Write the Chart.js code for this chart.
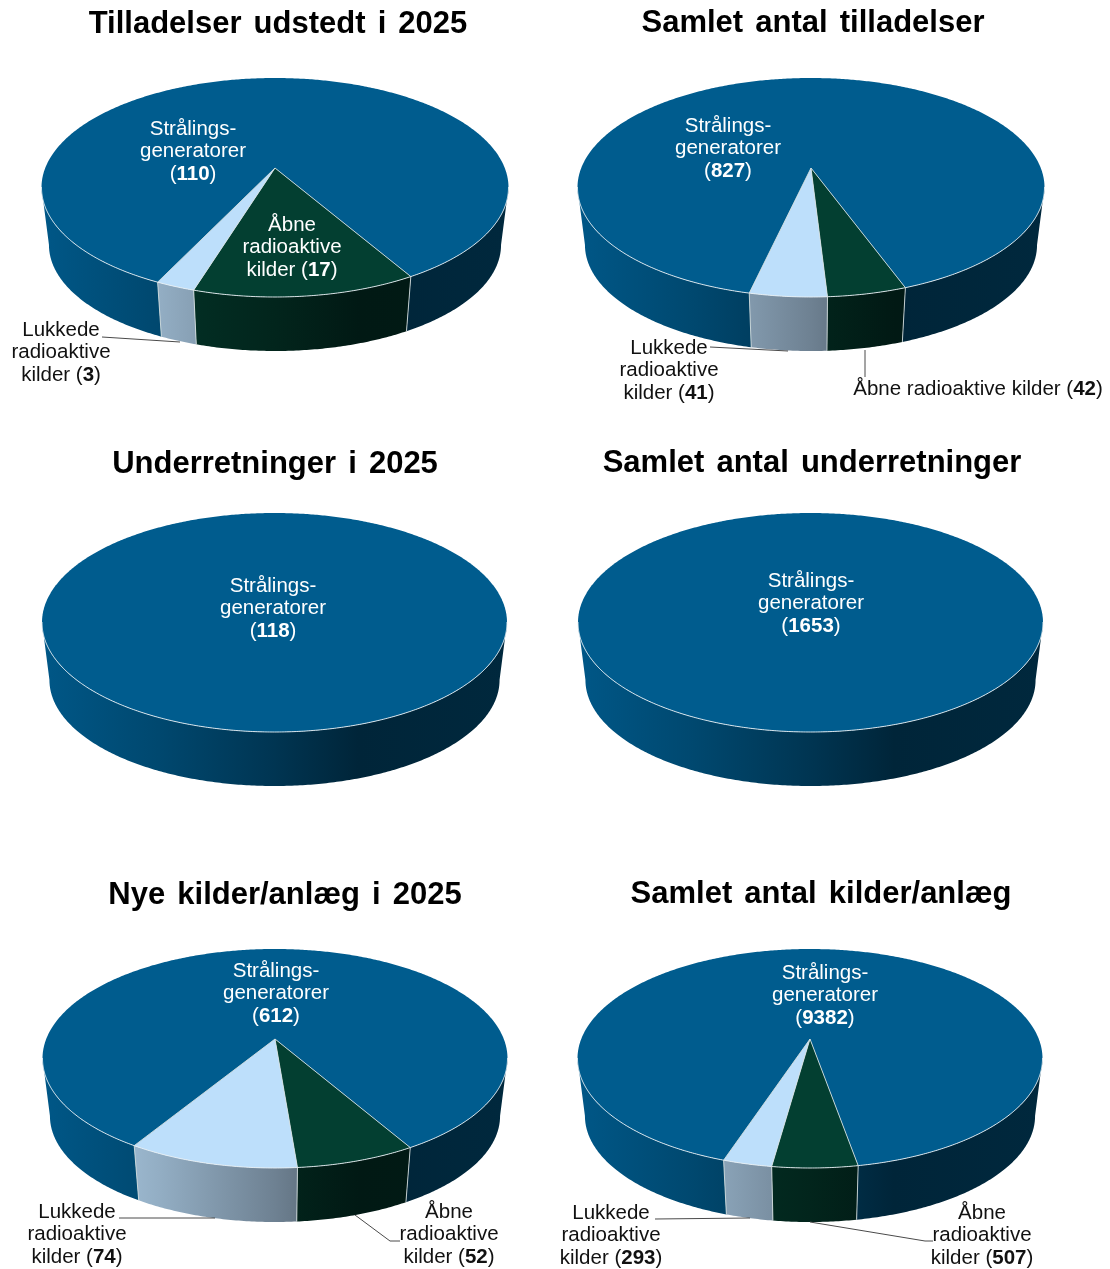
<!DOCTYPE html>
<html lang="da">
<head>
<meta charset="utf-8">
<title>Tilladelser og underretninger</title>
<script src="https://cdn.jsdelivr.net/npm/chart.js@4/dist/chart.umd.min.js"></script>
<style>
html,body{margin:0;padding:0;background:#fff;overflow:hidden;width:1110px;height:1269px}
canvas{position:absolute;display:block}
</style>
</head>
<body>
<script>
// ---------- data ----------
const categories = ["Åbne radioaktive kilder", "Lukkede radioaktive kilder", "Strålingsgeneratorer"];
const tilladelser2025 = [17, 3, 110];
const tilladelserTotal = [42, 41, 827];
const underretninger2025 = [0, 0, 118];
const underretningerTotal = [0, 0, 1653];
const kilder2025 = [52, 74, 612];
const kilderTotal = [507, 293, 9382];
const titles = ["Tilladelser udstedt i 2025", "Samlet antal tilladelser", "Underretninger i 2025",
                "Samlet antal underretninger", "Nye kilder/anlæg i 2025", "Samlet antal kilder/anlæg"];
const rotations = [150, 160, 0, 0, 150, 170];
const labelLines = [["Åbne", "radioaktive", "kilder"], ["Lukkede", "radioaktive", "kilder"], ["Strålings-", "generatorer"]];

// ---------- styling / layout ----------
const sliceColors = ["#033F31", "#BDDFFB", "#005C8E"];
const FONT = '"Liberation Sans", Arial, sans-serif';
const CW = 590, CH = 425;
const panels = [
 {tc:277.5, ty:22,  ax:275, ay:168,  rx:233.5, lab:[{i:2,x:193,y:129},{i:0,x:292,y:225,white:1},{i:1,x:61,y:330,dark:1}],
  lead:[[[102,337],[180,342]]]},
 {tc:813,   ty:21,  ax:811, ay:168,  rx:233.5, lab:[{i:2,x:728,y:126},{i:1,x:669,y:348,dark:1},{i:0,x:978,y:389,dark:1,one:1}],
  lead:[[[710,347],[788,351]],[[865,350],[865,377]]]},
 {tc:275,   ty:462, ax:274.5, ay:603, rx:232.5, lab:[{i:2,x:273,y:586}], lead:[]},
 {tc:812,   ty:461, ax:810.5, ay:603, rx:232.5, lab:[{i:2,x:811,y:581}], lead:[]},
 {tc:285,   ty:893, ax:275, ay:1039, rx:232.5, lab:[{i:2,x:276,y:971},{i:1,x:77,y:1212,dark:1},{i:0,x:449,y:1212,dark:1}],
  lead:[[[119,1218],[215,1218]],[[355,1215],[390,1241],[400,1241]]]},
 {tc:821,   ty:892, ax:810, ay:1039, rx:232.5, lab:[{i:2,x:825,y:973},{i:1,x:611,y:1213,dark:1},{i:0,x:982,y:1213,dark:1}],
  lead:[[[655,1219],[750,1218]],[[810,1222],[925,1241],[933,1241]]]}
];
const datasets = [tilladelser2025, tilladelserTotal, underretninger2025, underretningerTotal, kilder2025, kilderTotal];
const shadeStops = [[0,.95],[.25,.78],[.5,.58],[.68,.4],[1,.43]];
const FAR = 90, NEAR = 129, DEPTH = 54, BOTTOM_SCALE = .968;

function hexShade(hex, f){
  const n = parseInt(hex.slice(1),16);
  return `rgb(${Math.round((n>>16&255)*f)},${Math.round((n>>8&255)*f)},${Math.round((n&255)*f)})`;
}

const pie3d = {
  id:'pie3d',
  beforeDraw(chart){ chart.ctx.wordSpacing = '3.5px'; },
  beforeDatasetsDraw(chart, args, opts){
    const ctx = chart.ctx, P = opts.panel;
    const arcs = chart.getDatasetMeta(0).data;
    const p = (NEAR-FAR)/(NEAR+FAR), b = NEAR*(1-p), a = P.rx*Math.sqrt(1-p*p);
    const top = ang => { const u=Math.cos(ang), v=Math.sin(ang), w=1/(1-p*v);
      return [P.ax+a*u*w, P.ay+b*v*w]; };
    const dy = NEAR+DEPTH-BOTTOM_SCALE*NEAR;
    const bot = ang => { const u=Math.cos(ang), v=Math.sin(ang), w=1/(1-p*v);
      return [P.ax+BOTTOM_SCALE*a*u*w, P.ay+dy+BOTTOM_SCALE*b*v*w]; };
    const samples = (s,e) => { const n=Math.max(2,Math.ceil((e-s)/0.01)), r=[];
      for(let i=0;i<=n;i++) r.push(s+(e-s)*i/n); return r; };
    const trace = pts => { ctx.beginPath(); pts.forEach((q,i)=> i?ctx.lineTo(q[0],q[1]):ctx.moveTo(q[0],q[1])); };

    ctx.save();
    ctx.wordSpacing = '0px';
    ctx.translate(-chart.canvas.offsetLeft, -chart.canvas.offsetTop);

    const values = chart.data.datasets[0].data;
    const visible = arcs.map((el,i)=>({el,i})).filter(o=>values[o.i]>0);
    const whole = visible.length===1;

    // side walls: only the front part between the two tangent angles of the outline
    const t0 = Math.asin(p), t1 = Math.PI-t0;
    visible.forEach(({el})=>{
      const col = el.options.backgroundColor;
      const g = ctx.createLinearGradient(P.ax-P.rx,0,P.ax+P.rx,0);
      shadeStops.forEach(s=>g.addColorStop(s[0],hexShade(col,s[1])));
      ctx.fillStyle=g;
      for(let k=-2;k<=2;k++){
        const shift=k*2*Math.PI;
        const s=Math.max(el.startAngle+shift,t0), e=Math.min(el.endAngle+shift,t1);
        if(e<=s) continue;
        const A=samples(s,e);
        trace(A.map(top).concat(A.slice().reverse().map(bot))); ctx.closePath(); ctx.fill();
      }
    });
    // top surfaces
    visible.forEach(({el})=>{
      const A = samples(el.startAngle, el.endAngle).map(top);
      if(!whole) A.unshift([P.ax,P.ay]);
      trace(A); ctx.closePath();
      ctx.fillStyle = el.options.backgroundColor; ctx.fill();
    });
    // front rim highlight
    ctx.lineWidth=1; ctx.strokeStyle='rgba(232,240,244,.9)';
    const rim=[]; for(let d=10;d<=170;d+=.5) rim.push(top(d*Math.PI/180));
    trace(rim); ctx.stroke();
    // slice separators
    if(!whole){
      visible.forEach(({el})=>{
        const ang = el.startAngle, q = top(ang);
        ctx.strokeStyle='rgba(215,225,225,.85)';
        trace([[P.ax,P.ay],q]); ctx.stroke();
        if(Math.sin(ang)>0){ trace([q,bot(ang)]); ctx.stroke(); }
      });
    }
    // leader lines
    ctx.strokeStyle='#4a4a4a'; ctx.lineWidth=1;
    P.lead.forEach(l=>{ trace(l); ctx.stroke(); });

    // value labels
    ctx.textBaseline='middle'; ctx.textAlign='left';
    const regular = `20.5px ${FONT}`, bold = `bold 20.5px ${FONT}`;
    const drawRuns = (runs,cx,y)=>{
      let w=0; runs.forEach(r=>{ctx.font=r[1]?bold:regular; w+=ctx.measureText(r[0]).width;});
      let x=cx-w/2;
      runs.forEach(r=>{ctx.font=r[1]?bold:regular; ctx.fillText(r[0],x,y); x+=ctx.measureText(r[0]).width;});
    };
    P.lab.forEach(L=>{
      ctx.fillStyle = L.dark ? '#111' : '#fff';
      const lines = labelLines[L.i], val = String(values[L.i]);
      const LH = 22.5;
      if(L.one){
        drawRuns([[lines.join(' ')+' (',0],[val,1],[')',0]],L.x,L.y);
      }else if(L.i===2){
        lines.forEach((t,k)=>drawRuns([[t,0]],L.x,L.y+k*LH));
        drawRuns([['(',0],[val,1],[')',0]],L.x,L.y+lines.length*LH);
      }else{
        lines.slice(0,2).forEach((t,k)=>drawRuns([[t,0]],L.x,L.y+k*LH));
        drawRuns([[lines[2]+' (',0],[val,1],[')',0]],L.x,L.y+2*LH);
      }
    });
    ctx.restore();
    return false;
  }
};

panels.forEach((P,idx)=>{
  const c = document.createElement('canvas');
  c.width=CW; c.height=CH;
  c.style.width=CW+'px'; c.style.height=CH+'px';
  c.style.left=(P.tc-CW/2)+'px';
  c.style.top=(P.ty-16)+'px';
  document.body.appendChild(c);
  new Chart(c,{
    type:'pie',
    data:{labels:categories,datasets:[{data:datasets[idx],backgroundColor:sliceColors,borderWidth:0}]},
    options:{
      responsive:false,animation:false,rotation:rotations[idx],
      events:[],
      layout:{padding:0},
      plugins:{
        legend:{display:false},tooltip:{enabled:false},
        title:{display:true,text:titles[idx],color:'#000',padding:0,
               font:{family:FONT,size:31,weight:'bold',lineHeight:1.2}},
        pie3d:{panel:P}
      }
    },
    plugins:[pie3d]
  });
});
</script>
</body>
</html>
